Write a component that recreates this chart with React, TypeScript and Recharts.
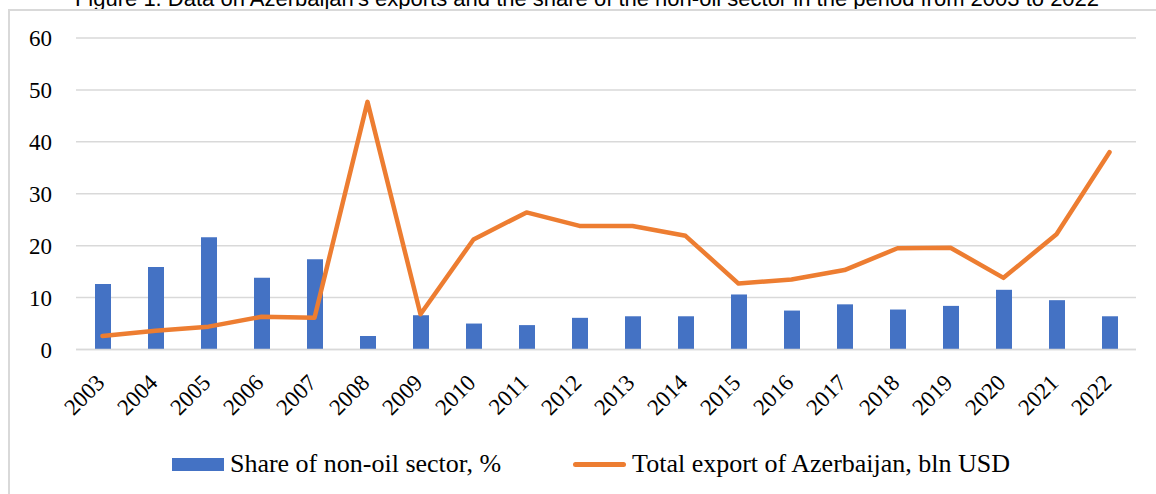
import {
  Bar,
  CartesianGrid,
  ComposedChart,
  Legend,
  Line,
  XAxis,
  YAxis,
} from "recharts";

const years = [
  "2003", "2004", "2005", "2006", "2007", "2008", "2009", "2010", "2011", "2012",
  "2013", "2014", "2015", "2016", "2017", "2018", "2019", "2020", "2021", "2022",
];
const nonOilShare = [
  12.6, 15.9, 21.6, 13.8, 17.4, 2.6, 6.6, 5.0, 4.7, 6.1,
  6.4, 6.4, 10.6, 7.5, 8.7, 7.7, 8.4, 11.5, 9.5, 6.4,
];
const totalExport = [
  2.6, 3.6, 4.4, 6.3, 6.1, 47.7, 6.8, 21.2, 26.4, 23.8,
  23.8, 21.9, 12.7, 13.5, 15.3, 19.5, 19.6, 13.8, 22.2, 38.0,
];
const yTicks = [0, 10, 20, 30, 40, 50, 60];

const shareName = "Share of non-oil sector, %";
const exportName = "Total export of Azerbaijan, bln USD";
const title =
  "Figure 1. Data on Azerbaijan's exports and the share of the non-oil sector in the period from 2003 to 2022";

const data = years.map((year, i) => ({
  year,
  share: nonOilShare[i],
  total: totalExport[i],
}));

const SERIF = "Liberation Serif";
const BLUE = "#4472C4";
const ORANGE = "#ED7D31";
const GRID = "#D9D9D9";

const YearTick = ({ x, y, payload }: any) => {
  const tx = x + 3.5;
  const ty = y + 34.5;
  return (
    <text
      x={tx}
      y={ty}
      transform={`rotate(-45, ${tx}, ${ty})`}
      textAnchor="end"
      fontFamily={SERIF}
      fontSize={23}
      fill="#000"
    >
      {payload.value}
    </text>
  );
};

const renderLegend = () => (
  <div
    style={{
      height: 40,
      display: "flex",
      justifyContent: "center",
      alignItems: "flex-start",
      paddingLeft: 46,
      boxSizing: "border-box",
      fontFamily: SERIF,
      fontSize: 26,
      lineHeight: "20px",
      color: "#000",
      whiteSpace: "nowrap",
    }}
  >
    <div style={{ display: "flex", alignItems: "center", height: 20 }}>
      <span style={{ width: 52, height: 13, background: BLUE, marginRight: 6 }} />
      <span>{shareName}</span>
    </div>
    <div style={{ display: "flex", alignItems: "center", height: 20, marginLeft: 72 }}>
      <span
        style={{
          width: 53,
          height: 5,
          background: ORANGE,
          borderRadius: 3,
          marginRight: 6,
        }}
      />
      <span>{exportName}</span>
    </div>
  </div>
);

export default function App() {
  return (
    <div
      style={{
        position: "fixed",
        left: 0,
        top: 0,
        width: 1156,
        height: 494,
        overflow: "hidden",
        background: "#fff",
        fontFamily: SERIF,
      }}
    >
      <div
        style={{
          position: "absolute",
          left: 0,
          top: -12,
          width: 1156,
          paddingLeft: 18,
          boxSizing: "border-box",
          textAlign: "center",
          fontFamily: "Liberation Sans",
          fontSize: 22,
          lineHeight: "22px",
          color: "#000",
          whiteSpace: "nowrap",
        }}
      >
        {title}
      </div>
      <div
        style={{
          position: "absolute",
          left: 8,
          top: 9,
          width: 1200,
          height: 520,
          background: "#fff",
          borderTop: `2px solid ${GRID}`,
          borderLeft: `2px solid ${GRID}`,
        }}
      />
      <div style={{ position: "absolute", left: 0, top: 0 }}>
        <ComposedChart
          width={1156}
          height={494}
          data={data}
          margin={{ top: 38, right: 20, bottom: 0, left: 0 }}
          barCategoryGap="35%"
        >
          <CartesianGrid vertical={false} stroke={GRID} strokeWidth={1.5} />
          <XAxis
            dataKey="year"
            height={104.5}
            interval={0}
            tickLine={false}
            tickSize={0}
            tickMargin={0}
            axisLine={{ stroke: GRID, strokeWidth: 1.5 }}
            tick={<YearTick />}
          />
          <YAxis
            width={76}
            domain={[0, 60]}
            ticks={yTicks}
            interval={0}
            axisLine={false}
            tickLine={false}
            tickSize={0}
            tickMargin={24}
            tick={{ fontSize: 23, fill: "#000", fontFamily: SERIF }}
          />
          <Legend verticalAlign="bottom" content={renderLegend} />
          <Bar
            dataKey="share"
            name={shareName}
            fill={BLUE}
            barSize={16}
            isAnimationActive={false}
          />
          <Line
            dataKey="total"
            name={exportName}
            type="linear"
            stroke={ORANGE}
            strokeWidth={4.5}
            strokeLinecap="round"
            strokeLinejoin="round"
            dot={false}
            activeDot={false}
            isAnimationActive={false}
          />
        </ComposedChart>
      </div>
    </div>
  );
}
